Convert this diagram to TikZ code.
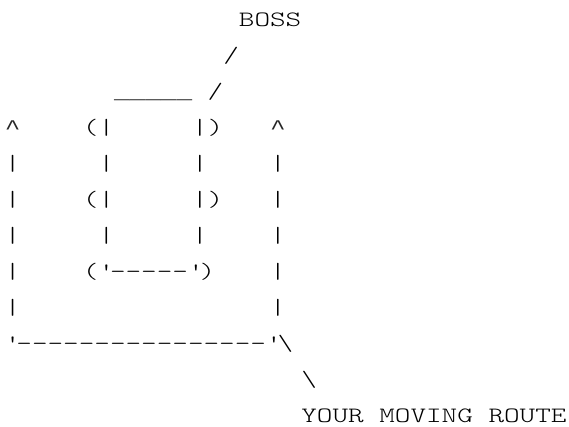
\documentclass[tikz,border=0pt]{standalone}
\usepackage{fontspec}
\setmonofont[FakeStretch=1.357]{lmmonolt10-regular.otf}
\newfontfamily\libmono[FakeStretch=1.25]{Liberation Mono}
\tikzset{
  ascii/.style={anchor=base west, inner sep=0pt, outer sep=0pt,
    font=\ttfamily\fontsize{21.9pt}{21.9pt}\selectfont, text=black},
  asciil/.style={ascii, font=\libmono\fontsize{20.8pt}{20.8pt}\selectfont, text=black!85}
}
\begin{document}
\begin{tikzpicture}
\path[fill=white, use as bounding box] (0,0) rectangle (569pt,-426pt);
\begin{scope}[shift={(4.9pt,-26.5pt)}, x=15.6pt, y=-36.0pt]
% line 0-2
\node[ascii] (boss) at (15,0) {BOSS};
\node[ascii] (s1) at (14,1) {/};
\node[asciil] (roof) at (7,2) {\_\_\_\_\_};
\node[ascii] (s2) at (13,2) {/};
% line 3
\node[asciil] (ua) at (0,3) {\textasciicircum};
\node[ascii] (l3a) at (5,3) {(|};
\node[ascii] (l3b) at (12,3) {|)};
\node[asciil] (ub) at (17,3) {\textasciicircum};
% line 4
\node[ascii] (l4a) at (0,4) {|};
\node[ascii] (l4b) at (6,4) {|};
\node[ascii] (l4c) at (12,4) {|};
\node[ascii] (l4d) at (17,4) {|};
% line 5
\node[ascii] (l5a) at (0,5) {|};
\node[ascii] (l5b) at (5,5) {(|};
\node[ascii] (l5c) at (12,5) {|)};
\node[ascii] (l5d) at (17,5) {|};
% line 6
\node[ascii] (l6a) at (0,6) {|};
\node[ascii] (l6b) at (6,6) {|};
\node[ascii] (l6c) at (12,6) {|};
\node[ascii] (l6d) at (17,6) {|};
% line 7
\node[ascii] (l7a) at (0,7) {|};
\node[ascii] (base) at (5,7) {(\textquotesingle-{}-{}-{}-{}-\textquotesingle)};
\node[ascii] (l7d) at (17,7) {|};
% line 8
\node[ascii] (l8a) at (0,8) {|};
\node[ascii] (l8d) at (17,8) {|};
% line 9
\node[ascii] (bottom) at (0,9) {\textquotesingle-{}-{}-{}-{}-{}-{}-{}-{}-{}-{}-{}-{}-{}-{}-{}-\textquotesingle\textbackslash};
% line 10-11
\node[ascii] (b2) at (19,10) {\textbackslash};
\node[ascii] (route) at (19,11) {YOUR MOVING ROUTE};
\end{scope}
\end{tikzpicture}
\end{document}
